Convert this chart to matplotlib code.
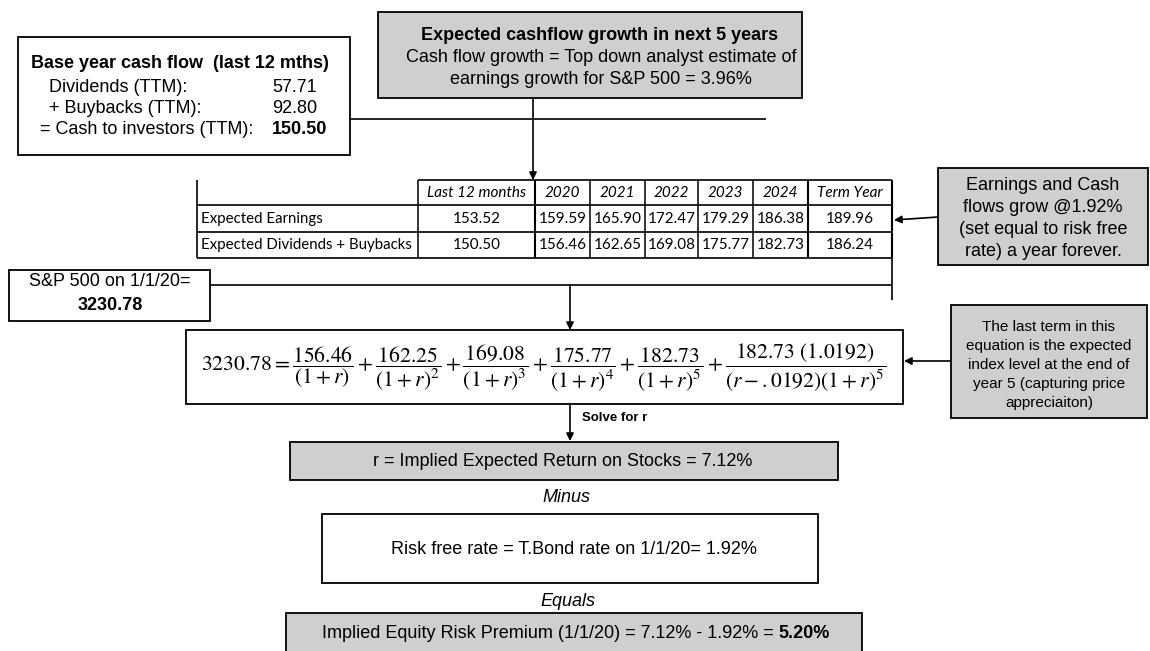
import matplotlib
matplotlib.use("Agg")
import matplotlib.pyplot as plt
from matplotlib.patches import Rectangle

# ---- values ----
base_labels = ["Dividends (TTM):", "+ Buybacks (TTM):", "= Cash to investors (TTM):"]
base_values = ["57.71", "92.80", "150.50"]

table_cols = ["Last 12 months", "2020", "2021", "2022", "2023", "2024", "Term Year"]
table_rows = ["Expected Earnings", "Expected Dividends + Buybacks"]
earnings = ["153.52", "159.59", "165.90", "172.47", "179.29", "186.38", "189.96"]
cashflows = ["150.50", "156.46", "162.65", "169.08", "175.77", "182.73", "186.24"]

index_level = "3230.78"
eq_numerators = ["156.46", "162.25", "169.08", "175.77", "182.73"]
terminal_num = "182.73"
rf_growth = "1.0192"
rf_rate = ".0192"

growth_rate = "3.96%"
implied_return = "7.12%"
riskfree = "1.92%"
erp = "5.20%"

SANS = "Liberation Sans"
GREY = "#cfcfcf"

fig = plt.figure(figsize=(11.5, 6.51), dpi=100)
ax = fig.add_axes([0, 0, 1, 1])
ax.set_xlim(0, 1150)
ax.set_ylim(651, 0)
ax.axis("off")


def box(x0, y0, x1, y1, fill="white", lw=1.3):
    ax.add_patch(Rectangle((x0, y0), x1 - x0, y1 - y0, facecolor=fill,
                           edgecolor="black", linewidth=lw, zorder=2))


def line(xs, ys, lw=1.2):
    ax.plot(xs, ys, color="black", linewidth=lw, zorder=3, solid_capstyle="butt")


def arrow(x0, y0, x1, y1):
    ax.annotate("", xy=(x1, y1), xytext=(x0, y0),
                arrowprops=dict(arrowstyle="-|>", color="black", lw=1.2,
                                mutation_scale=11, shrinkA=0, shrinkB=0),
                zorder=4)


def txt(x, y, s, size=13, ha="center", weight="normal", style="normal", family=SANS):
    ax.text(x, y, s, fontsize=size, ha=ha, va="center", weight=weight,
            style=style, family=family, zorder=5)


# ---- base year box ----
box(18, 37, 350, 155)
txt(31, 63, "Base year cash flow  (last 12 mths)", ha="left", weight="bold")
lab_x = [49, 49, 40]
for i, (lab, val) in enumerate(zip(base_labels, base_values)):
    y = 87 + i * 21.5
    txt(lab_x[i], y, lab, ha="left")
    txt(272, y, val, ha="left", weight="bold" if i == 2 else "normal")
line([350, 766], [119, 119])

# ---- growth box ----
box(378, 12, 802, 98, fill=GREY)
txt(600, 35, "Expected cashflow growth in next 5 years", weight="bold")
txt(601, 58, "Cash flow growth = Top down analyst estimate of")
txt(601, 79, "earnings growth for S&P 500 = " + growth_rate)
arrow(533, 98, 533, 180)

# ---- table ----
col_edges = [197, 418, 535, 590, 645, 698, 753, 808, 892]
row_edges = [180, 205, 232, 258]
TFONT = "Lato"
line([col_edges[1], col_edges[-1]], [row_edges[0]] * 2)
for y in row_edges[1:]:
    line([col_edges[0], col_edges[-1]], [y, y])
line([col_edges[0]] * 2, [row_edges[0], row_edges[-1]])
for x in col_edges[1:]:
    line([x, x], [row_edges[0], row_edges[-1]], lw=1.5 if x in (535, 808, 892) else 1.1)
for j, c in enumerate(table_cols):
    cx = (col_edges[j + 1] + col_edges[j + 2]) / 2
    txt(cx, 193, c, size=11, style="italic", family=TFONT)
    txt(cx, 219, earnings[j], size=11, family=TFONT)
    txt(cx, 245, cashflows[j], size=11, family=TFONT)
for i, r in enumerate(table_rows):
    txt(201, 219 + i * 26, r, size=10.8, ha="left", family=TFONT)

# ---- terminal growth note ----
box(938, 168, 1148, 265, fill=GREY)
for i, s in enumerate(["Earnings and Cash", "flows grow @" + riskfree,
                       "(set equal to risk free", "rate) a year forever."]):
    txt(1043, 185 + i * 22, s)
arrow(938, 217, 894, 220)

# ---- index level ----
box(9, 270, 210, 321)
txt(110, 281, "S&P 500 on 1/1/20=")
txt(110, 306, index_level, weight="bold")
line([210, 892], [285, 285])
line([892, 892], [258, 300])
arrow(570, 285, 570, 330)

# ---- equation ----
box(186, 330, 903, 404)
plt.rcParams["mathtext.fontset"] = "stix"
terms = [r"\dfrac{%s}{(1+r)}" % eq_numerators[0]]
terms += [r"\dfrac{%s}{(1+r)^%d}" % (n, k + 2) for k, n in enumerate(eq_numerators[1:])]
terms.append(r"\dfrac{%s\ (%s)}{(r-%s)(1+r)^5}" % (terminal_num, rf_growth, rf_rate))
eq = r"$%s = " % index_level + "+".join(terms) + "$"
ax.text(201, 367, eq, fontsize=15.6, ha="left", va="center", zorder=5)

box(951, 305, 1147, 418, fill=GREY)
for i, s in enumerate(["The last term in this", "equation is the expected",
                       "index level at the end of", "year 5 (capturing price",
                       "appreciaiton)"]):
    txt(1049, 327 + i * 19, s, size=11)
arrow(951, 361, 904, 361)

arrow(570, 404, 570, 441)
txt(582, 418, "Solve for r", size=9.5, ha="left", weight="bold")

# ---- results ----
box(290, 442, 838, 480, fill=GREY)
txt(563, 461, "r = Implied Expected Return on Stocks = " + implied_return)
txt(566, 498, "Minus", style="italic")
box(322, 514, 818, 583)
txt(574, 549, "Risk free rate = T.Bond rate on 1/1/20= " + riskfree)
txt(568, 602, "Equals", style="italic")
box(286, 613, 862, 652, fill=GREY)

# bottom line: normal part + bold result, centred together
part1 = "Implied Equity Risk Premium (1/1/20) = %s - %s = " % (implied_return, riskfree)
t1 = ax.text(0, 633, part1, fontsize=13, family=SANS, ha="left", va="center", zorder=5)
t2 = ax.text(0, 633, erp, fontsize=13, family=SANS, weight="bold", ha="left", va="center", zorder=5)
fig.canvas.draw()
r = fig.canvas.get_renderer()
inv = ax.transData.inverted()
e1, e2 = t1.get_window_extent(r), t2.get_window_extent(r)
w1 = inv.transform((e1.x1, 0))[0] - inv.transform((e1.x0, 0))[0]
w2 = inv.transform((e2.x1, 0))[0] - inv.transform((e2.x0, 0))[0]
start = 576 - (w1 + w2) / 2
t1.set_x(start)
t2.set_x(start + w1)

fig.savefig("out.png", dpi=100, facecolor="white")
